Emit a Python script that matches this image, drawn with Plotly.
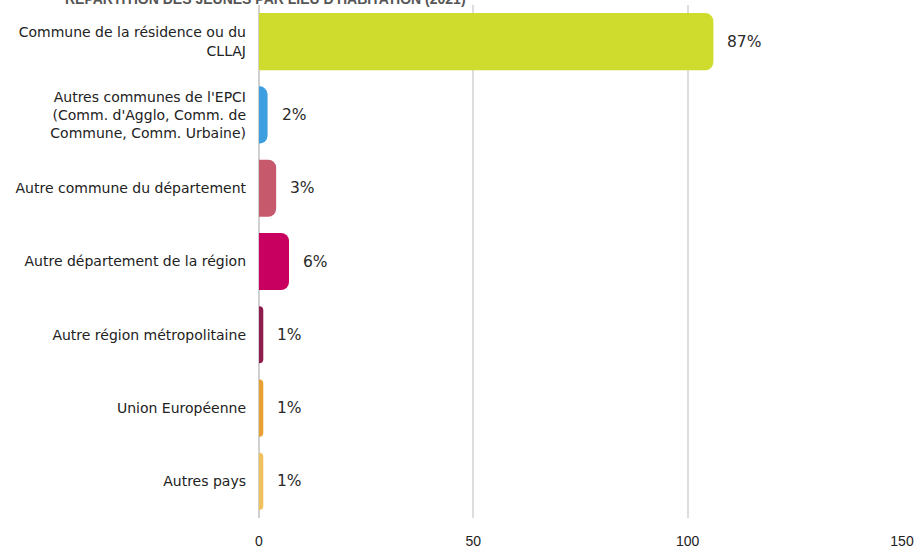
import plotly.graph_objects as go

categories = [
    "Commune de la résidence ou du<br>CLLAJ",
    "Autres communes de l'EPCI<br>(Comm. d'Agglo, Comm. de<br>Commune, Comm. Urbaine)",
    "Autre commune du département",
    "Autre département de la région",
    "Autre région métropolitaine",
    "Union Européenne",
    "Autres pays",
]
values = [106, 2, 4, 7, 1, 1, 1]
labels = ["87%", "2%", "3%", "6%", "1%", "1%", "1%"]
colors = ["#cfdc2e", "#3d9fe0", "#c65a6c", "#c8005f", "#8e1c4c", "#e7a033", "#f0c25e"]
x_ticks = [0, 50, 100, 150]
title_text = "RÉPARTITION DES JEUNES PAR LIEU D'HABITATION (2021)"

FONT = "Liberation Sans, Arial, sans-serif"
WIDE = "DejaVu Sans, Verdana, sans-serif"

fig = go.Figure()
fig.add_trace(go.Bar(
    x=values, y=categories, orientation="h",
    marker=dict(color=colors, line=dict(width=0)),
    hoverinfo="skip",
))

for v, c, t in zip(values, categories, labels):
    fig.add_annotation(x=v, y=c, text=t, showarrow=False, xanchor="left",
                       xshift=12, font=dict(size=15.5, color="#2a2a2a", family=WIDE))

fig.add_annotation(xref="paper", yref="paper", x=0.01, y=1, yanchor="bottom", xanchor="center",
                   yshift=-4, text="<b>" + title_text + "</b>", showarrow=False,
                   font=dict(size=14, color="#555555", family=FONT))

fig.update_layout(
    width=919, height=554,
    margin=dict(l=259, r=16, t=5, b=33),
    paper_bgcolor="white", plot_bgcolor="white",
    bargap=0.22,
    barcornerradius=8,
    showlegend=False,
    font=dict(family=FONT, color="#333333"),
)
fig.update_xaxes(range=[0, 150], tickvals=x_ticks, showgrid=True, gridcolor="#dddddd",
                 gridwidth=2, zeroline=True, zerolinecolor="#d0d0d0", zerolinewidth=2,
                 tickfont=dict(size=14, color="#222222", family=FONT), ticklabelstandoff=13,
                 showline=False, fixedrange=True)
fig.update_yaxes(autorange="reversed", tickfont=dict(size=14, color="#222222", family=WIDE),
                 ticklabelstandoff=12, showgrid=False, showline=False, fixedrange=True)

fig.write_html("out.html", config={"displayModeBar": False},
               post_script="document.body.style.margin='0px';")
